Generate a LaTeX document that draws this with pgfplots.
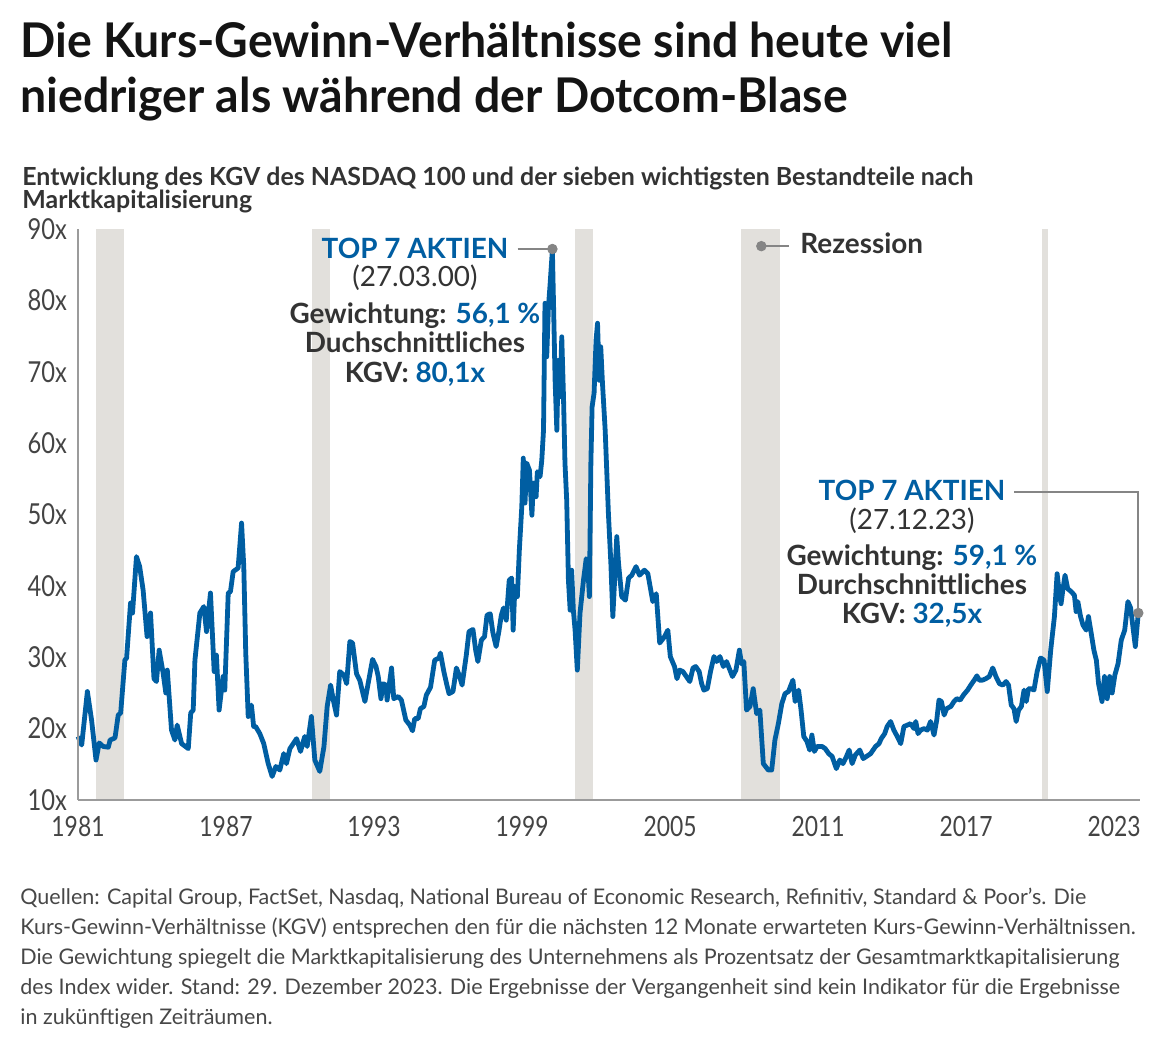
\documentclass[border=0pt]{standalone}
\usepackage{pgfplots}
\pgfplotsset{compat=1.18}
\usepackage{pgfplotstable}
\usepackage{fontspec}
\setmainfont{Lato}
\newfontfamily\titlefont{Lato}[FakeStretch=0.97]
\newfontfamily\subfont{Lato}[FakeStretch=1.0]
\newfontfamily\tickfont{Lato}[FakeStretch=0.82]

\definecolor{kblue}{HTML}{005EA2}
\definecolor{recess}{HTML}{E2E0DC}
\definecolor{axgray}{HTML}{9B9B9B}
\definecolor{txt}{HTML}{333333}
\definecolor{ticktxt}{HTML}{444444}
\definecolor{dotgray}{HTML}{858585}

% KGV NASDAQ 100
\pgfplotstableread{
year pe
1981.00 18.9
1981.15 17.7
1981.38 25.2
1981.55 21.2
1981.73 15.6
1981.86 18.0
1982.02 17.5
1982.23 17.4
1982.30 18.4
1982.50 18.7
1982.63 21.9
1982.73 22.2
1982.90 29.6
1982.97 29.9
1983.13 37.6
1983.21 36.2
1983.37 44.1
1983.50 42.7
1983.64 39.4
1983.80 32.9
1983.94 36.2
1984.08 27.0
1984.18 26.6
1984.29 31.0
1984.45 27.8
1984.56 25.0
1984.62 28.2
1984.79 19.8
1984.93 18.4
1985.02 20.5
1985.20 17.9
1985.47 17.2
1985.57 22.2
1985.67 22.6
1985.74 29.6
1985.94 36.2
1986.10 37.1
1986.21 33.6
1986.37 39.0
1986.52 28.0
1986.61 30.3
1986.72 22.6
1986.88 27.3
1986.95 25.4
1987.09 39.0
1987.18 39.2
1987.29 42.0
1987.49 42.5
1987.63 48.8
1987.72 42.7
1987.80 30.6
1987.90 21.7
1988.03 23.3
1988.12 20.3
1988.20 20.3
1988.37 19.3
1988.53 17.9
1988.71 15.1
1988.87 13.3
1989.02 14.7
1989.18 14.2
1989.34 16.5
1989.45 15.1
1989.59 17.2
1989.86 18.6
1990.02 16.8
1990.19 18.9
1990.29 17.5
1990.46 21.7
1990.60 15.6
1990.80 14.0
1990.97 17.5
1991.10 23.1
1991.24 26.1
1991.35 24.0
1991.48 21.9
1991.61 28.0
1991.78 27.5
1991.89 26.3
1992.02 32.2
1992.13 32.0
1992.29 27.7
1992.42 26.8
1992.63 23.8
1992.76 26.3
1992.94 29.7
1993.08 28.7
1993.17 27.3
1993.28 24.2
1993.37 26.3
1993.48 26.1
1993.53 24.0
1993.71 28.5
1993.80 24.2
1993.98 24.5
1994.11 24.0
1994.29 21.2
1994.45 20.5
1994.56 19.7
1994.65 21.4
1994.79 21.4
1994.88 22.8
1995.02 23.1
1995.12 24.7
1995.29 25.8
1995.46 29.6
1995.64 29.9
1995.69 30.6
1995.83 28.0
1995.94 26.3
1996.04 24.9
1996.20 25.2
1996.34 28.5
1996.47 27.3
1996.57 26.1
1996.74 30.3
1996.85 33.6
1997.01 33.9
1997.12 31.0
1997.21 29.4
1997.35 32.4
1997.48 32.9
1997.58 35.9
1997.71 36.1
1997.82 33.4
1997.95 31.5
1998.06 33.6
1998.16 35.9
1998.25 36.9
1998.36 35.2
1998.48 40.8
1998.58 41.1
1998.64 33.8
1998.71 39.9
1998.81 38.5
1998.89 45.0
1998.99 51.1
1999.05 57.9
1999.12 51.6
1999.19 57.2
1999.30 56.2
1999.40 49.9
1999.46 54.4
1999.57 52.5
1999.62 56.0
1999.73 55.3
1999.80 57.6
1999.87 61.8
1999.93 79.6
2000.00 72.1
2000.07 79.1
2000.14 82.4
2000.23 87.1
2000.27 80.5
2000.34 68.8
2000.41 61.8
2000.47 71.6
2000.54 66.5
2000.61 74.9
2000.68 66.5
2000.74 57.2
2000.81 52.0
2000.88 40.8
2000.95 36.6
2001.01 42.2
2001.08 36.6
2001.15 33.8
2001.24 28.2
2001.35 36.2
2001.49 40.8
2001.60 43.8
2001.65 43.6
2001.73 38.5
2001.79 57.2
2001.84 65.1
2001.92 67.0
2002.00 74.4
2002.06 76.8
2002.13 68.8
2002.19 73.5
2002.26 68.4
2002.37 61.8
2002.50 50.2
2002.60 43.2
2002.68 35.7
2002.84 46.9
2002.91 43.2
2003.04 38.5
2003.19 38.0
2003.32 41.1
2003.45 41.5
2003.62 42.7
2003.76 41.5
2003.96 42.2
2004.10 41.7
2004.30 37.8
2004.44 38.9
2004.58 32.0
2004.78 32.9
2004.91 33.8
2005.01 30.1
2005.18 28.7
2005.28 27.0
2005.39 28.2
2005.52 28.0
2005.66 27.3
2005.80 26.6
2005.93 28.5
2006.04 28.7
2006.18 28.0
2006.28 26.3
2006.37 25.4
2006.51 25.6
2006.64 28.0
2006.78 30.1
2006.89 29.4
2007.02 30.1
2007.16 28.7
2007.29 29.4
2007.53 27.3
2007.67 28.2
2007.81 31.0
2007.90 29.1
2007.99 29.4
2008.10 22.6
2008.24 23.1
2008.37 25.6
2008.51 22.1
2008.64 22.6
2008.78 15.1
2008.98 14.2
2009.12 14.2
2009.25 18.4
2009.39 20.7
2009.53 23.5
2009.66 24.9
2009.80 25.2
2009.98 26.8
2010.07 23.8
2010.21 25.4
2010.31 22.6
2010.42 18.9
2010.55 18.2
2010.66 17.0
2010.75 19.1
2010.85 16.8
2010.96 17.5
2011.16 17.5
2011.29 17.2
2011.43 16.5
2011.57 16.1
2011.74 14.4
2011.88 15.6
2012.01 15.1
2012.15 16.1
2012.26 17.0
2012.38 15.1
2012.51 16.3
2012.69 17.0
2012.83 15.8
2012.96 16.1
2013.13 16.5
2013.33 17.5
2013.47 17.9
2013.56 18.6
2013.70 19.3
2013.80 20.3
2013.94 21.0
2014.07 19.8
2014.21 18.9
2014.35 17.9
2014.48 20.3
2014.62 20.5
2014.75 20.7
2014.89 20.0
2014.96 21.0
2015.05 19.3
2015.16 19.8
2015.29 20.0
2015.43 19.8
2015.56 21.0
2015.70 19.1
2015.81 21.2
2015.90 24.0
2016.00 23.8
2016.11 21.9
2016.21 22.8
2016.38 23.1
2016.51 23.8
2016.62 24.2
2016.76 24.0
2016.89 24.7
2017.06 25.4
2017.19 26.1
2017.33 26.8
2017.44 27.4
2017.53 26.8
2017.67 26.8
2017.80 27.0
2017.94 27.3
2018.08 28.5
2018.21 27.3
2018.35 26.3
2018.49 26.1
2018.62 26.6
2018.72 26.1
2018.83 23.3
2018.94 22.8
2019.03 21.0
2019.13 22.6
2019.24 23.1
2019.35 25.4
2019.44 23.8
2019.53 25.6
2019.64 25.6
2019.75 25.4
2019.88 28.0
2020.02 29.9
2020.16 29.6
2020.29 25.2
2020.43 31.0
2020.58 35.7
2020.69 41.7
2020.78 39.0
2020.85 37.5
2020.92 39.4
2021.01 41.5
2021.12 39.6
2021.26 39.2
2021.39 38.7
2021.46 36.4
2021.53 37.8
2021.64 35.7
2021.74 34.5
2021.87 33.8
2021.96 35.7
2022.07 33.4
2022.18 31.0
2022.28 29.6
2022.37 26.3
2022.51 23.8
2022.61 27.3
2022.72 24.2
2022.82 27.3
2022.92 25.0
2023.03 27.5
2023.16 29.1
2023.29 32.4
2023.43 33.8
2023.56 37.8
2023.67 36.9
2023.86 31.5
2023.98 36.2
}\kgv

\begin{document}
\begin{tikzpicture}
\fill[white] (0,0) rectangle (582.5bp,-524.5bp);
\path[use as bounding box] (0,0) rectangle (582.5bp,-524.5bp);

\begin{axis}[
    at={(39bp,-400bp)}, anchor=south west,
    scale only axis, width=531bp, height=285.5bp,
    xmin=1981, xmax=2024.05, ymin=10, ymax=90,
    axis x line*=bottom, axis y line*=left,
    axis line style={axgray, line width=1.1bp, -},
    axis on top,
    clip=false,
    major tick length=0pt,
    xtick={1981,1987,1993,1999,2005,2011,2017,2023},
    xticklabels={1981,1987,1993,1999,2005,2011,2017,2023},
    ytick={10,20,30,40,50,60,70,80,90},
    yticklabels={10x,20x,30x,40x,50x,60x,70x,80x,90x},
    xticklabel style={font=\tickfont\fontsize{14}{14}\selectfont, text=ticktxt, yshift=-4.5bp},
    yticklabel style={font=\tickfont\fontsize{14.5}{14.5}\selectfont, text=ticktxt, xshift=-2bp},
]
% Rezessionen
\addplot[fill=recess, draw=none] coordinates {(1981.73,10)(1981.73,90)(1982.87,90)(1982.87,10)};
\addplot[fill=recess, draw=none] coordinates {(1990.47,10)(1990.47,90)(1991.22,90)(1991.22,10)};
\addplot[fill=recess, draw=none] coordinates {(2001.15,10)(2001.15,90)(2001.88,90)(2001.88,10)};
\addplot[fill=recess, draw=none] coordinates {(2007.89,10)(2007.89,90)(2009.47,90)(2009.47,10)};
\addplot[fill=recess, draw=none] coordinates {(2020.09,10)(2020.09,90)(2020.33,90)(2020.33,10)};

\addplot[kblue, line width=2.4bp, line join=round] table[x=year, y=pe] {\kgv};

% callout lines and dots
\addplot[dotgray, line width=0.9bp] coordinates {(1998.82,87.2)(2000.23,87.2)};
\addplot[dotgray, line width=0.9bp] coordinates {(2018.95,53.15)(2023.98,53.15)(2023.98,36.2)};
\addplot[dotgray, line width=0.9bp] coordinates {(2008.70,87.6)(2009.84,87.6)};
\addplot[only marks, mark=*, mark size=2.4bp, dotgray] coordinates {(2000.23,87.2)(2023.98,36.2)(2008.70,87.6)};
\end{axis}

\begin{scope}[x=0.5bp, y=-0.5bp]
% title and subtitle
\node[anchor=base west, inner sep=0, text=black!92] at (20,57)
  {\titlefont\bfseries\fontsize{24}{24}\selectfont Die Kurs-Gewinn-Verhältnisse sind heute viel};
\node[anchor=base west, inner sep=0, text=black!92] at (20,113)
  {\titlefont\bfseries\fontsize{24}{24}\selectfont niedriger als während der Dotcom-Blase};
\node[anchor=base west, inner sep=0, text=txt] at (22,186)
  {\subfont\bfseries\fontsize{12.5}{12.5}\selectfont Entwicklung des KGV des NASDAQ 100 und der sieben wichtigsten Bestandteile nach};
\node[anchor=base west, inner sep=0, text=txt] at (22,209)
  {\subfont\bfseries\fontsize{12.5}{12.5}\selectfont Marktkapitalisierung};

% Rezession label
\node[anchor=base west, inner sep=0, text=txt] at (800,254)
  {\bfseries\fontsize{14}{14}\selectfont Rezession};

% annotation 2000
\begin{scope}[every node/.style={anchor=base, inner sep=0, text=txt, font=\bfseries\fontsize{14}{14}\selectfont}]
\node[text=kblue] at (415,259) {TOP 7 AKTIEN};
\node at (415,287) {\mdseries (27.03.00)};
\node at (415,324) {Gewichtung: \textcolor{kblue}{56,1 \%}};
\node at (415,353) {Duchschnittliches};
\node at (415,383) {KGV: \textcolor{kblue}{80,1x}};
% annotation 2023
\node[text=kblue] at (912,501) {TOP 7 AKTIEN};
\node at (912,530) {\mdseries (27.12.23)};
\node at (912,566) {Gewichtung: \textcolor{kblue}{59,1 \%}};
\node at (912,595) {Durchschnittliches};
\node at (912,624) {KGV: \textcolor{kblue}{32,5x}};
\end{scope}

% footer
\begin{scope}[every node/.style={anchor=base west, inner sep=0, text=txt!90, font=\fontsize{10.8}{10.8}\selectfont}]
\node at (20,905) {Quellen: Capital Group, FactSet, Nasdaq, National Bureau of Economic Research, Refinitiv, Standard \& Poor's. Die};
\node at (20,935) {Kurs-Gewinn-Verhältnisse (KGV) entsprechen den für die nächsten 12 Monate erwarteten Kurs-Gewinn-Verhältnissen.};
\node at (20,965) {Die Gewichtung spiegelt die Marktkapitalisierung des Unternehmens als Prozentsatz der Gesamtmarktkapitalisierung};
\node at (20,995) {des Index wider. Stand: 29. Dezember 2023. Die Ergebnisse der Vergangenheit sind kein Indikator für die Ergebnisse};
\node at (20,1025) {in zukünftigen Zeiträumen.};
\end{scope}
\end{scope}
\end{tikzpicture}
\end{document}
